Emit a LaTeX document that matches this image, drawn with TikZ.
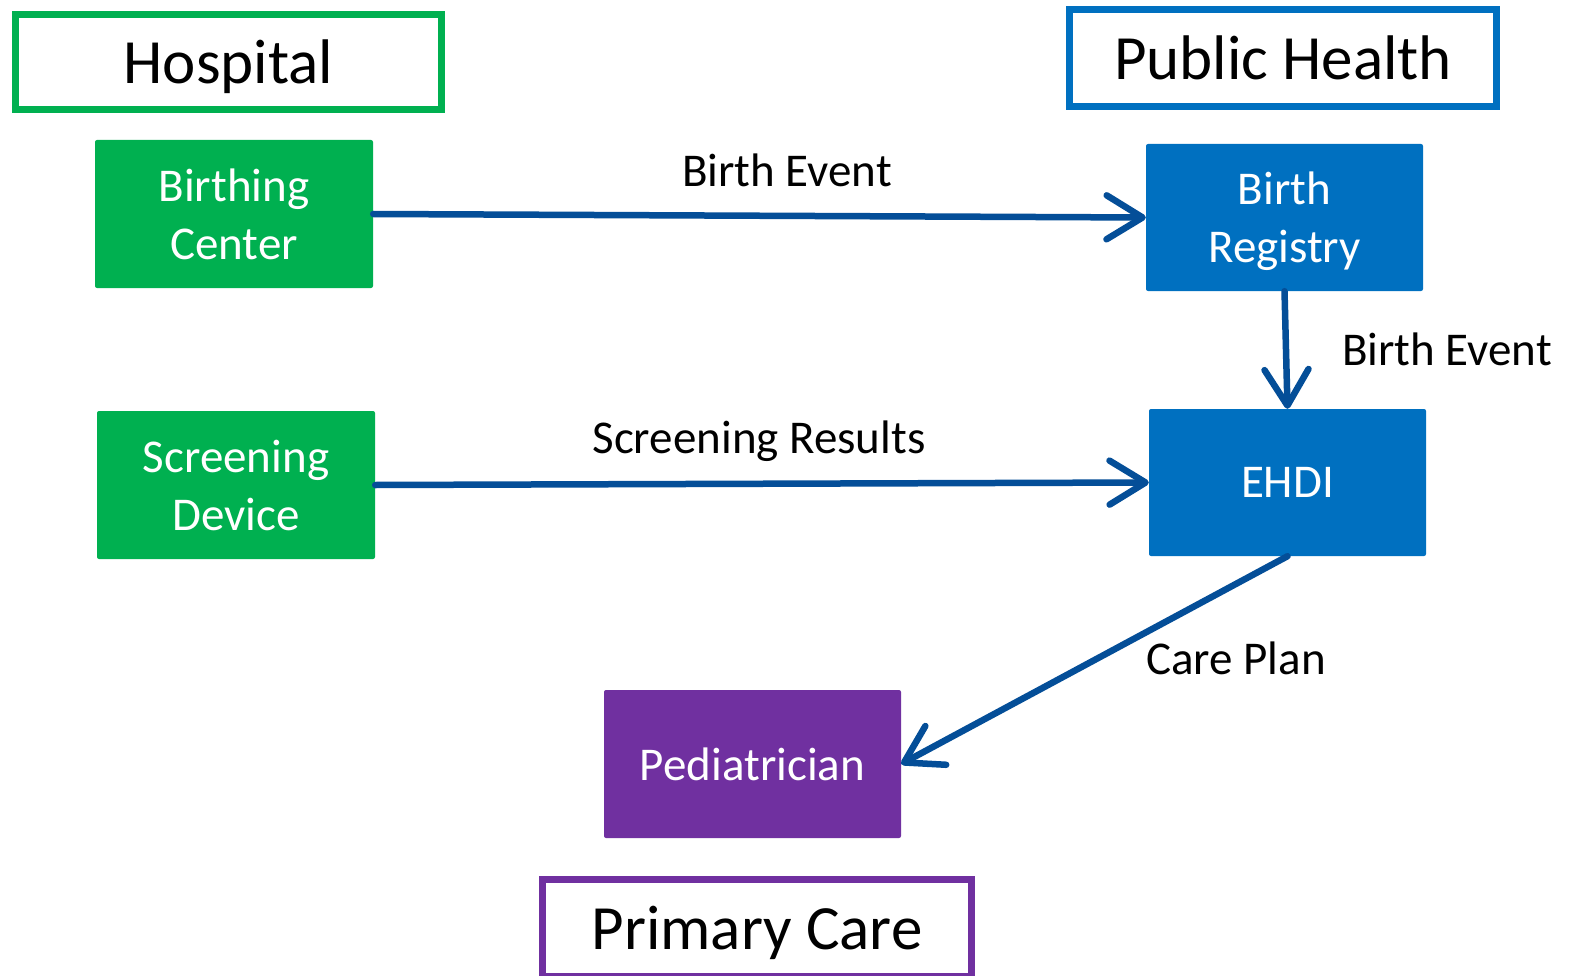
\documentclass[tikz,border=0pt]{standalone}
\usepackage{fontspec}
\setmainfont{Carlito}
\usetikzlibrary{arrows.meta}
\definecolor{hgreen}{HTML}{00B050}
\definecolor{pblue}{HTML}{0070C0}
\definecolor{ppurple}{HTML}{7030A0}
\definecolor{arrowblue}{RGB}{4,78,152}
\tikzset{
  titlebox/.style={draw=#1, line width=7pt, fill=white, inner sep=0pt, text depth=0pt, font=\fontsize{63}{76}\selectfont, text=black},
  fillbox/.style={fill=#1, rounded corners=2pt, inner sep=0pt, text depth=0pt, minimum width=278pt, minimum height=148pt, align=center, text=white, font=\fontsize{47}{58}\selectfont},
  flow/.style={draw=arrowblue, line width=6.5pt, line cap=round, -{Straight Barb[length=36pt,width=44pt,line cap=round,line join=round]}},
  lbl/.style={font=\fontsize{47}{58}\selectfont, text=black, inner sep=0pt, text depth=0pt}
}
\begin{document}
\begin{tikzpicture}[x=1pt,y=-1pt]
\useasboundingbox[fill=white] (0,0) rectangle (1570,976);
\node[titlebox=hgreen, minimum width=426pt, minimum height=95pt] (hosp) at (228.5,62) {Hospital};
\node[titlebox=pblue, minimum width=427pt, minimum height=97pt] (ph) at (1283,58) {Public Health};
\node[titlebox=ppurple, minimum width=429pt, minimum height=97pt] (pc) at (757,928) {Primary Care};
\node[fillbox=hgreen] (bc) at (234,214) {Birthing\\Center};
\node[fillbox=hgreen] (sd) at (236,485) {Screening\\Device};
\node[fillbox=pblue, minimum width=277pt, minimum height=147pt] (br) at (1284.5,217.5) {Birth\\Registry};
\node[fillbox=pblue, minimum width=277pt, minimum height=147pt] (ehdi) at (1287.5,482.5) {EHDI};
\node[fillbox=ppurple, minimum width=297pt] (ped) at (752.5,764) {Pediatrician};
\draw[flow] (bc.east) -- (br.west);
\draw[flow] (br.south) -- (ehdi.north);
\draw[flow] (sd.east) -- (ehdi.west);
\draw[flow] (ehdi.south) -- (ped.east);
\node[lbl] (l1) at (787,170) {Birth Event};
\node[lbl] (l2) at (1447,349) {Birth Event};
\node[lbl] (l3) at (759,437) {Screening Results};
\node[lbl] (l4) at (1236,658) {Care Plan};
\end{tikzpicture}
\end{document}
